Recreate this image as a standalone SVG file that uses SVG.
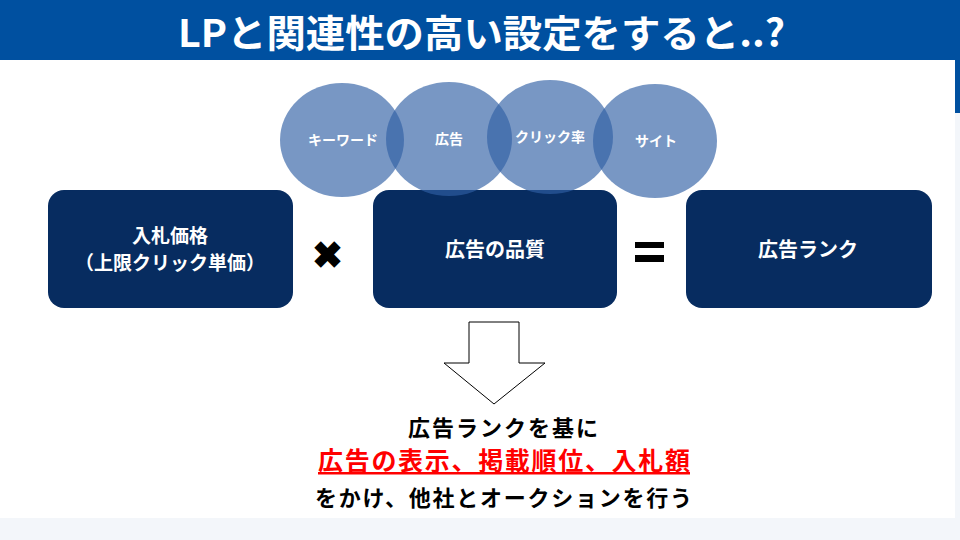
<svg xmlns="http://www.w3.org/2000/svg" width="960" height="540" viewBox="0 0 960 540">
<style>
.box{fill:#072C60}
.circ{fill:#2F5FA5;fill-opacity:0.65}
.wt{fill:#FFFFFF;font-family:"Noto Sans CJK JP","Noto Sans",sans-serif;font-weight:bold;text-anchor:middle}
.bt{fill:#000000;font-family:"Noto Sans CJK JP","Noto Sans",sans-serif;font-weight:bold;text-anchor:middle}
</style>
<rect x="0" y="0" width="960" height="540" fill="#F3F6FA"/>
<rect x="0" y="0" width="955" height="518" fill="#FFFFFF"/>
<rect x="0" y="0" width="960" height="60" fill="#0050A0"/>
<rect x="955" y="60" width="5" height="53" fill="#0050A0"/>
<text class="wt" x="481.5" y="47" font-size="38" textLength="607" lengthAdjust="spacingAndGlyphs">LPと関連性の高い設定をすると..?</text>

<g id="box-bid">
<rect class="box" x="48" y="190" width="245" height="118" rx="16"/>
<text class="wt" x="170" y="243" font-size="19">入札価格</text>
<text class="wt" x="170" y="270" font-size="19">（上限クリック単価）</text>
</g>
<g id="box-quality">
<rect class="box" x="373" y="190" width="244" height="118" rx="16"/>
<text class="wt" x="495" y="257" font-size="20">広告の品質</text>
</g>
<g id="box-rank">
<rect class="box" x="686" y="190" width="246" height="118" rx="16"/>
<text class="wt" x="808" y="257" font-size="20">広告ランク</text>
</g>

<g id="circle-keyword">
<ellipse class="circ" cx="342" cy="140" rx="62" ry="57"/>
<text class="wt" x="343" y="145" font-size="14">キーワード</text>
</g>
<g id="circle-ad">
<ellipse class="circ" cx="449" cy="139" rx="63" ry="57"/>
<text class="wt" x="449" y="144" font-size="14">広告</text>
</g>
<g id="circle-ctr">
<ellipse class="circ" cx="550" cy="137" rx="63" ry="57"/>
<text class="wt" x="550" y="142" font-size="14">クリック率</text>
</g>
<g id="circle-site">
<ellipse class="circ" cx="655" cy="141" rx="62" ry="57"/>
<text class="wt" x="656" y="146" font-size="14">サイト</text>
</g>

<g id="operators">
<text class="bt" x="327" y="268" font-size="37" font-family="DejaVu Sans">✖</text>
<rect x="635" y="242" width="29" height="6" fill="#000"/>
<rect x="635" y="255" width="29" height="7" fill="#000"/>
</g>

<g id="connectors">
<polygon points="469,322 519,322 519,363 545,363 494,404 444,363 469,363" fill="#FFFFFF" stroke="#000000" stroke-width="1"/>
</g>

<g id="result-text">
<text class="bt" x="503" y="436" font-size="22" textLength="190" lengthAdjust="spacing">広告ランクを基に</text>
<text class="bt" x="504" y="470" font-size="25" textLength="372" lengthAdjust="spacing" style="fill:#FF0000">広告の表示、掲載順位、入札額</text>
<rect x="318" y="472" width="372" height="2.5" fill="#FF0000"/>
<text class="bt" x="503.5" y="506" font-size="22" textLength="377" lengthAdjust="spacing">をかけ、他社とオークションを行う</text>
</g>
</svg>
